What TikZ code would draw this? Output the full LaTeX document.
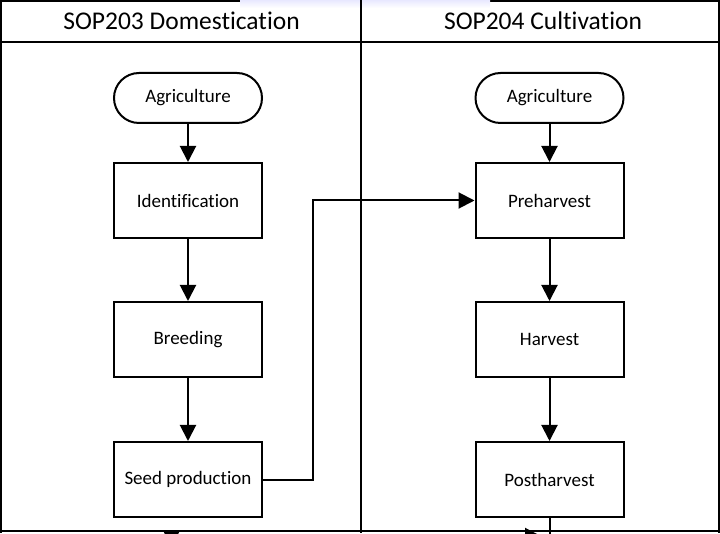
\documentclass[tikz,border=0pt]{standalone}
\usepackage{fontspec}
\setmainfont{Carlito}[Ligatures={NoCommon}]
\usepackage{tikz}
\usetikzlibrary{positioning}
\usetikzlibrary{arrows.meta}

\begin{document}
\begin{tikzpicture}[
        x=1pt, y=1pt,
        line width=2pt,
        every node/.style = {
        draw, minimum width=148pt, minimum height=75pt, inner sep=0pt,
        font=\fontsize{19}{22}\selectfont
        },
        terminal/.style = {minimum height=50pt, rounded corners=25pt},
        lane title/.style = {
        draw=none, minimum width=0pt, minimum height=0pt, anchor=base,
        font=\fontsize{25.5}{30}\selectfont
        },
        flow/.style = {-{Triangle[length=16pt, width=16pt]}}
        ]
    \useasboundingbox (0,0) rectangle (720,533);
    \clip (0,0) rectangle (720,533);
    \draw (1,0) -- (1,532) -- (719,532) -- (719,0);
    \shade[top color=blue!9, bottom color=white] (240,525) rectangle (490,533);
    \draw (0,491) -- (720,491);
    \draw (0,2) -- (720,2);
    \draw (361,0) -- (361,533);
    \node[lane title] (domTitle) at (181.5,503) {SOP203 Domestication};
    \node[lane title] (culTitle) at (543,503) {SOP204 Cultivation};
    \node[terminal] (agrDom) at (188,435) {Agriculture};
    \node[below=38pt of agrDom] (ident) {Identification};
    \node[below=62pt of ident] (breed) {Breeding};
    \node[below=63pt of breed] (seed) {Seed production};
    \node[terminal] (agrCul) at (549.5,435) {Agriculture};
    \node[below=38pt of agrCul] (pre) {Preharvest};
    \node[below=62pt of pre] (harv) {Harvest};
    \node[below=63pt of harv] (post) {Postharvest};
    \coordinate (postEnd) at (549.5,-10);
    \coordinate (inL) at (171.5,2);
    \coordinate (inLEnd) at (171.5,-14);
    \coordinate (outR) at (460,-3);
    \coordinate (outREnd) at (541,-3);
    \draw[flow] (agrDom) -- (ident);
    \draw[flow] (ident) -- (breed);
    \draw[flow] (breed) -- (seed);
    \draw[flow] (agrCul) -- (pre);
    \draw[flow] (pre) -- (harv);
    \draw[flow] (harv) -- (post);
    \draw[flow] (seed.east) -- ++(50,0) |- (pre.west);
    \draw (post) -- (postEnd);
    \draw[flow] (inL) -- (inLEnd);
    \draw[flow] (outR) -- (outREnd);
\end{tikzpicture}
\end{document}
